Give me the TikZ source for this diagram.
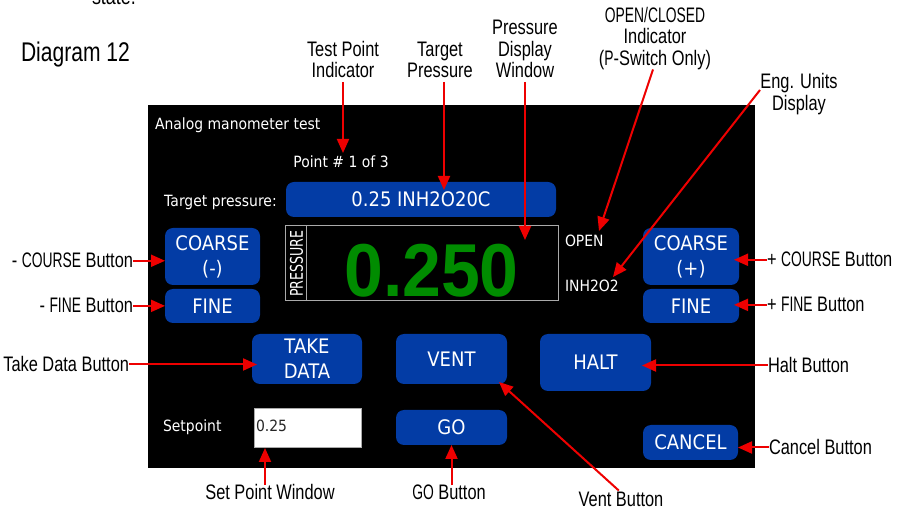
\documentclass[tikz,border=0pt]{standalone}
\usepackage{fontspec}
\usepackage{graphicx}
\setmainfont{Liberation Sans}
\newfontfamily\labf[FakeStretch=0.78]{Liberation Sans}
\newfontfamily\labc[FakeStretch=0.66]{Liberation Sans}
\newfontfamily\scrf[FakeStretch=0.9]{DejaVu Sans}
\newfontfamily\digf[FakeStretch=0.93]{Liberation Sans}
\usetikzlibrary{arrows.meta}
\definecolor{btnblue}{RGB}{3,60,165}
\definecolor{lcdgreen}{RGB}{0,140,0}
\definecolor{arrred}{RGB}{238,0,0}
\definecolor{boxgray}{RGB}{170,170,170}
\begin{document}
\begin{tikzpicture}[x=1pt,y=-1pt,
  lbl/.style={font=\labf\fontsize{21}{21.5}\selectfont, inner sep=0pt, outer sep=0pt, align=center, text=black},
  btn/.style={fill=btnblue, rounded corners=8pt, text=white, font=\scrf\fontsize{20}{25}\selectfont, align=center, inner sep=0pt, outer sep=0pt},
  scrtxt/.style={text=white, font=\scrf\fontsize{15.5}{18}\selectfont, inner sep=0pt, outer sep=0pt},
  callout/.style={draw=arrred, line width=2pt, -{Triangle[length=14pt,width=12pt]}}
]
\clip (0,0) rectangle (903,510);
\fill[white] (0,0) rectangle (903,510);

% headings
\node[lbl, anchor=base west, font=\labf\fontsize{23}{24}\selectfont] (state) at (92,5) {state.};
\node[lbl, anchor=base west, font=\labf\fontsize{27}{30}\selectfont] (diag) at (21,62) {Diagram 12};

% screen
\node[fill=black, inner sep=0pt, outer sep=0pt, minimum width=607pt, minimum height=363pt, anchor=north west] (screen) at (148,105) {};

\node[scrtxt, anchor=base west] (title) at (155,130) {Analog manometer test};
\node[scrtxt, anchor=base] (ptnum) at (341,168) {Point \# 1 of 3};
\node[scrtxt, anchor=base] (tplab) at (220.5,207) {Target pressure:};
\node[btn, minimum width=270pt, minimum height=35pt] (target) at (421,199.5) {0.25 INH2O20C};

% pressure display
\node[draw=boxgray, line width=1pt, minimum width=273pt, minimum height=75pt, inner sep=0pt] (disp) at (421.5,263.5) {};
\draw[boxgray, line width=1pt] ([xshift=22pt]disp.north west) -- ([xshift=22pt]disp.south west);
\node[text=white, font=\scrf\fontsize{17.5}{18}\selectfont, rotate=90, inner sep=0pt] (plab) at (296.5,263.5) {\scalebox{0.8}[1]{PRESSURE}};
\node[text=lcdgreen, font=\digf\bfseries\fontsize{75}{80}\selectfont, anchor=base, inner sep=0pt] (val) at (431.5,297) {0.250};

\node[scrtxt, anchor=base west] (open) at (565,247) {OPEN};
\node[scrtxt, anchor=base west] (units) at (565,292) {INH2O2};

% buttons
\node[btn, minimum width=95pt, minimum height=57pt] (cm) at (212.5,256.5) {COARSE\\(-)};
\node[btn, minimum width=95pt, minimum height=34pt] (fm) at (212.5,306) {FINE};
\node[btn, minimum width=96pt, minimum height=57pt] (cp) at (691,256.5) {COARSE\\(+)};
\node[btn, minimum width=96pt, minimum height=34pt] (fp) at (691,306) {FINE};
\node[btn, minimum width=110pt, minimum height=50pt] (take) at (307,359) {TAKE\\DATA};
\node[btn, minimum width=111pt, minimum height=50pt] (vent) at (451.5,359) {VENT};
\node[btn, minimum width=111pt, minimum height=57pt] (halt) at (595.5,362.5) {HALT};
\node[btn, minimum width=111pt, minimum height=35pt] (go) at (451.5,427.5) {GO};
\node[btn, minimum width=95pt, minimum height=35pt] (cancel) at (690.5,442.5) {CANCEL};

% setpoint
\node[scrtxt, anchor=base west] (spl) at (163,432) {Setpoint};
\node[fill=white, draw=boxgray, line width=0.8pt, minimum width=107pt, minimum height=39pt, inner sep=0pt, anchor=north west] (setbox) at (254,408) {};
\node[scrtxt, text=black!85, anchor=base west] (spv) at (256,432) {0.25};

% callout labels
\node[lbl, anchor=south] (tpl) at (343,78) {Test Point\\Indicator};
\node[lbl, anchor=south] (tgl) at (440,78) {Target\\Pressure};
\node[lbl, anchor=south] (pdl) at (525,78) {Pressure\\Display\\Window};
\node[lbl, anchor=south] (ocl) at (655,69.5) {{\labc OPEN/CLOSED}\\Indicator\\({\labc P}-Switch Only)};
\node[lbl, anchor=south] (eul) at (799,114.5) {Eng. Units\\Display};

\node[lbl, anchor=base east] (lcl) at (133,268) {- {\labc COURSE} Button};
\node[lbl, anchor=base east] (lfl) at (133,313) {- {\labc FINE} Button};
\node[lbl, anchor=base west] (rcl) at (767,267) {+ {\labc COURSE} Button};
\node[lbl, anchor=base west] (rfl) at (767,312) {+ {\labc FINE} Button};
\node[lbl, anchor=base east] (tdl) at (129,372) {Take Data Button};
\node[lbl, anchor=base west] (hbl) at (768,373) {Halt Button};
\node[lbl, anchor=base west] (cbl) at (769,455) {Cancel Button};
\node[lbl, anchor=base] (swl) at (270,500) {Set Point Window};
\node[lbl, anchor=base] (gol) at (449,500) {{\labc GO} Button};
\node[lbl, anchor=base] (vbl) at (621,507) {Vent Button};

% arrow tips
\coordinate (tptip) at (343,153);
\coordinate (tgtip) at (444,190);
\coordinate (pdtip) at (525,240);
\coordinate (octip) at (599,231);
\coordinate (eutail) at (760,90);
\coordinate (eutip) at (613,277);
\coordinate (swtip) at (265,448);
\coordinate (venttip) at (499,382);

% callouts
\draw[callout, shorten <=4pt] (tpl.south) -- (tptip);
\draw[callout, shorten <=4pt] (tgl.south -| tgtip) -- (tgtip);
\draw[callout, shorten <=4pt] (pdl.south) -- (pdtip);
\draw[callout] ([xshift=-2pt]ocl.south) -- (octip);
\draw[callout] (eutail) -- (eutip);

\draw[callout] (lcl.east) -- (lcl.east -| cm.west);
\draw[callout] (lfl.east) -- (lfl.east -| fm.west);
\draw[callout, shorten >=-5pt] (rcl.west) -- (rcl.west -| cp.east);
\draw[callout, shorten >=-5pt] (rfl.west) -- (rfl.west -| fp.east);
\draw[callout, shorten >=-5pt] (tdl.east) -- (tdl.east -| take.west);
\draw[callout, shorten >=-9pt] (hbl.west) -- (hbl.west -| halt.east);
\draw[callout] (cbl.west) -- (cbl.west -| cancel.east);

\draw[callout] (swl.north -| swtip) -- (swtip);
\draw[callout] (gol.north -| go.south) -- (go.south);
\draw[callout, shorten <=3pt] (vbl.north) -- (venttip);
\end{tikzpicture}
\end{document}
